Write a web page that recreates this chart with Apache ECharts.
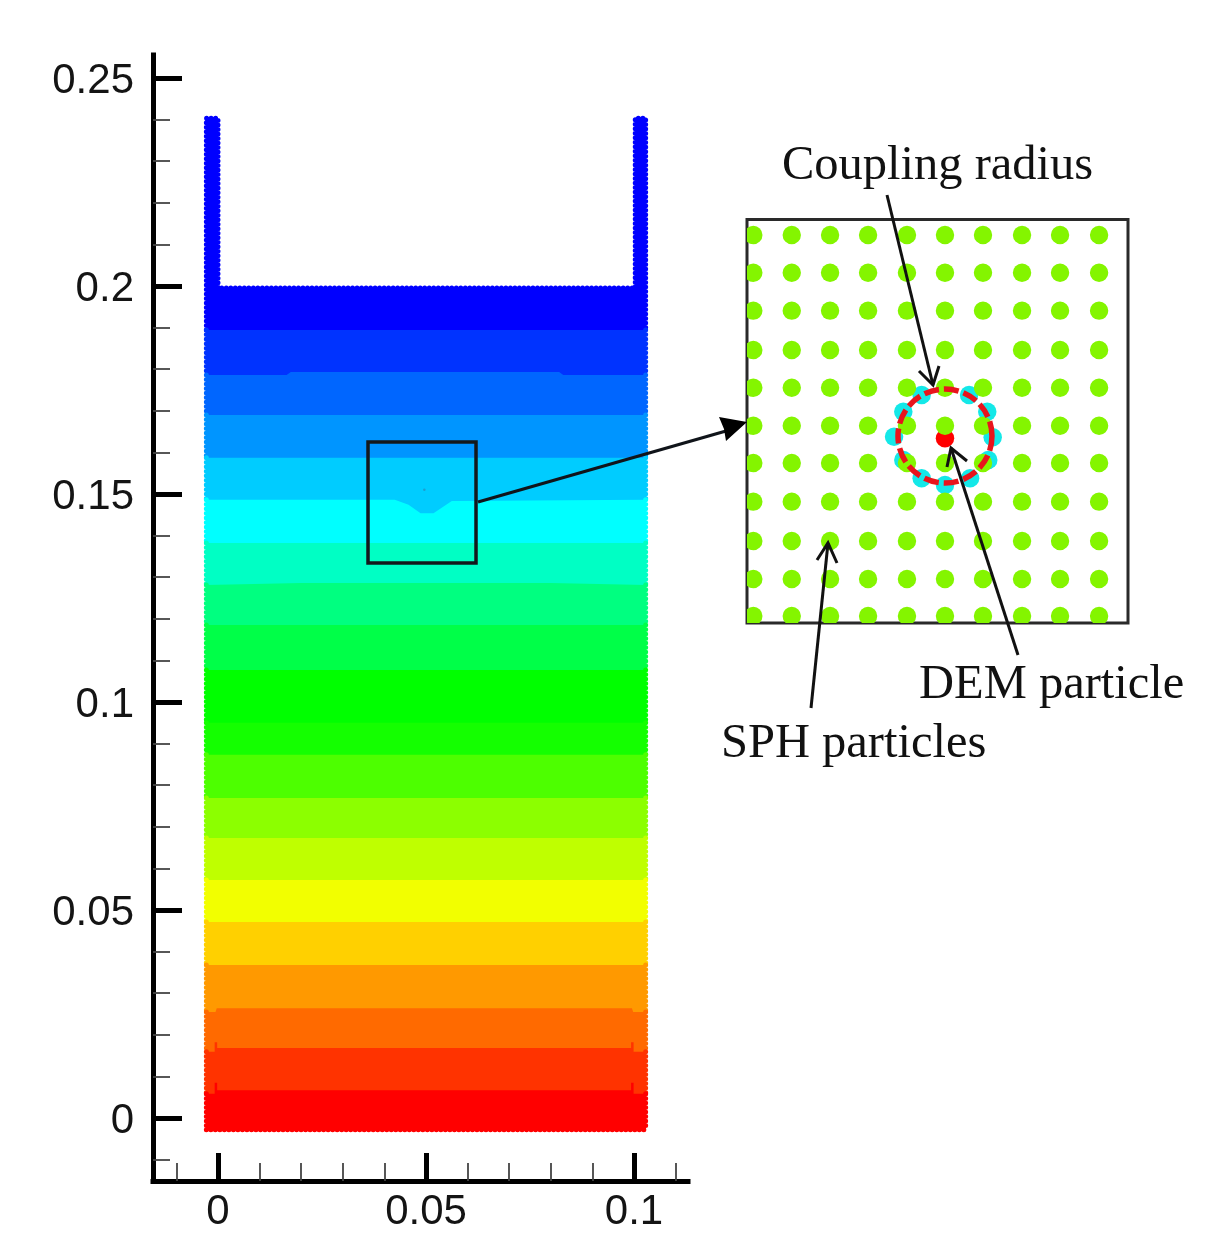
<!DOCTYPE html>
<html>
<head>
<meta charset="utf-8">
<style>html,body{margin:0;padding:0;background:#fff}#c{width:1207px;height:1257px;filter:blur(0.5px)}</style>
<script src="https://cdn.jsdelivr.net/npm/echarts@6/dist/echarts.min.js"></script>
</head>
<body>
<div id="c"></div>
<script>
// ---- main axes
const xMajor = [0, 0.05, 0.1];
const xMinor = [-0.01, 0.01, 0.02, 0.03, 0.04, 0.06, 0.07, 0.08, 0.09, 0.11];
const yMajor = [0, 0.05, 0.1, 0.15, 0.2, 0.25];
const yMinor = [-0.01, 0.01, 0.02, 0.03, 0.04, 0.06, 0.07, 0.08, 0.09, 0.11, 0.12, 0.13, 0.14,
                0.16, 0.17, 0.18, 0.19, 0.21, 0.22, 0.23, 0.24];

// ---- tank: outer particle centres
const tankOutlineX = [-0.0028, -0.0028, 0, 0, 0.1003, 0.1003, 0.1028, 0.1028];
const tankOutlineY = [0.1894, 0.2403, 0.2403, 0.1995, 0.1995, 0.2403, 0.2403, 0.1894];
const tankBottomY = -0.0028;

// ---- colour bands, top to bottom
const bandColors = ['#0000ff', '#0033ff', '#0066ff', '#0095ff', '#00ccff', '#00ffff', '#00ffc4',
  '#00ff80', '#00ff48', '#00ff00', '#14ff00', '#4dff00', '#8cff00', '#bfff00', '#f2ff00',
  '#ffd000', '#ff9900', '#ff6a00', '#ff3300', '#ff0000'];
const L = -0.0028, R = 0.1028;
// band separation lines as [x, y]
const bandEdges = [
  [[L, 0.1894], [R, 0.1894]],
  [[L, 0.1786], [0.0165, 0.1786], [0.0175, 0.1793], [0.082, 0.1793], [0.083, 0.1786], [R, 0.1786]],
  [[L, 0.1690], [R, 0.1690]],
  [[L, 0.1587], [R, 0.1587]],
  [[L, 0.1486], [0.0425, 0.1486], [0.0458, 0.1474], [0.0487, 0.1454], [0.0518, 0.1454], [0.0562, 0.1483], [R, 0.1486]],
  [[L, 0.1382], [R, 0.1382]],
  [[L, 0.1281], [0.02, 0.1286], [0.08, 0.1286], [R, 0.1281]],
  [[L, 0.1185], [R, 0.1185]],
  [[L, 0.1077], [R, 0.1077]],
  [[L, 0.0950], [R, 0.0950]],
  [[L, 0.0873], [R, 0.0873]],
  [[L, 0.0769], [R, 0.0769]],
  [[L, 0.0673], [R, 0.0673]],
  [[L, 0.0572], [R, 0.0572]],
  [[L, 0.0471], [R, 0.0471]],
  [[L, 0.0368], [R, 0.0368]],
  [[L, 0.0255], [-0.0006, 0.0255], [-0.0003, 0.0264], [0.0995, 0.0264], [0.0998, 0.0255], [R, 0.0255]],
  [[L, 0.0159], [-0.0008, 0.0159], [-0.0008, 0.0182], [-0.0002, 0.0182], [-0.0002, 0.0168], [0.0993, 0.0168], [0.0993, 0.0182], [0.0999, 0.0182], [0.0999, 0.0159], [R, 0.0159]],
  [[L, 0.0058], [-0.0008, 0.0058], [-0.0008, 0.0085], [-0.0002, 0.0085], [-0.0002, 0.0067], [0.0993, 0.0067], [0.0993, 0.0085], [0.0999, 0.0085], [0.0999, 0.0058], [R, 0.0058]]
];
const trackerX = [0.0496], trackerY = [0.151];
const zoomBoxX = [0.03606, 0.06202], zoomBoxY = [0.13341, 0.1625];

// ---- inset
const sphColX = [0.03649, 0.03911, 0.04172, 0.04431, 0.04696, 0.04955, 0.05214, 0.0548, 0.05739, 0.06005];
const sphRowY = [0.16138, 0.15866, 0.15593, 0.15309, 0.15037, 0.14763, 0.14494, 0.14216, 0.13932, 0.13658, 0.13391];
const coupledX = [0.04796, 0.05119, 0.05243, 0.0528, 0.0525, 0.05126, 0.04955, 0.04796, 0.04671, 0.04608, 0.04671];
const coupledY = [0.14985, 0.14985, 0.14864, 0.1468, 0.14516, 0.14384, 0.14336, 0.14384, 0.14516, 0.14684, 0.14864];
const demX = [0.04955], demY = [0.14673];
const radiusX = [0.04955], radiusY = [0.14689];

const zip = (a, b) => a.map((v, i) => [v, b[i]]);
const sphPoints = [];
sphRowY.forEach(y => sphColX.forEach(x => sphPoints.push([x, y])));

const dot = { lineWidth: 5, lineCap: 'round', lineDash: [0.01, 4.5], fill: null };

function renderBand(params, api) {
  const i = api.value(0);
  const color = bandColors[i];
  const px = p => api.coord(p);
  const children = [];
  let fillPts, sidePaths;
  if (i === 0) {
    const outline = zip(tankOutlineX, tankOutlineY);
    fillPts = outline.map(px);
    sidePaths = [fillPts];
  } else {
    const top = bandEdges[i - 1];
    const bottomY = i < bandEdges.length ? bandEdges[i][0][1] : tankBottomY;
    const bottomYR = i < bandEdges.length ? bandEdges[i][bandEdges[i].length - 1][1] : tankBottomY;
    fillPts = top.map(px).concat([px([R, tankBottomY]), px([L, tankBottomY])]);
    sidePaths = [
      [px(top[0]), px([L, bottomY])],
      [px(top[top.length - 1]), px([R, bottomYR])]
    ];
    if (i === bandColors.length - 1) sidePaths.push([px([L, tankBottomY]), px([R, tankBottomY])]);
  }
  children.push({ type: 'polygon', shape: { points: fillPts }, style: { fill: color, stroke: null } });
  sidePaths.forEach(p => children.push({
    type: 'polyline', shape: { points: p },
    style: Object.assign({}, dot, { stroke: color })
  }));
  return { type: 'group', children };
}

const tickLabel = { fontFamily: 'Liberation Sans', fontSize: 42, color: '#141414' };
const mainAxisLine = { show: true, onZero: false, lineStyle: { color: '#000', width: 5, cap: 'square' } };
const thinArrow = { stroke: '#111', lineWidth: 3, fill: null };
const noteFont = '48.5px "Liberation Serif"';

const option = {
  animation: false,
  backgroundColor: '#fff',
  grid: [
    { left: 153, top: 55, width: 535, height: 1126, show: false },
    { left: 747, top: 219.5, width: 381, height: 403.5, show: true, borderColor: '#2a2a2a', borderWidth: 3, backgroundColor: '#fff' }
  ],
  xAxis: [
    { type: 'value', gridIndex: 0, position: 'bottom', min: -0.015625, max: 0.11298,
      axisLine: mainAxisLine, splitLine: { show: false },
      axisTick: { show: true, inside: true, length: 28, customValues: xMajor, lineStyle: { color: '#000', width: 5 } },
      axisLabel: Object.assign({ customValues: xMajor, margin: 10 }, tickLabel) },
    { type: 'value', gridIndex: 0, position: 'bottom', min: -0.015625, max: 0.11298,
      axisLine: { show: false, onZero: false }, splitLine: { show: false },
      axisTick: { show: true, inside: true, length: 18, customValues: xMinor, lineStyle: { color: '#444', width: 1.8 } },
      axisLabel: { show: false } },
    { type: 'value', gridIndex: 1, min: zoomBoxX[0], max: zoomBoxX[1], show: false }
  ],
  yAxis: [
    { type: 'value', gridIndex: 0, position: 'left', min: -0.015144, max: 0.25553,
      axisLine: mainAxisLine, splitLine: { show: false },
      axisTick: { show: true, inside: true, length: 29, customValues: yMajor, lineStyle: { color: '#000', width: 5 } },
      axisLabel: { customValues: yMajor, margin: 19, formatter: v => '{t|' + v + '}',
        rich: { t: Object.assign({ padding: [6, 0, 0, 0] }, tickLabel) } } },
    { type: 'value', gridIndex: 0, position: 'left', min: -0.015144, max: 0.25553,
      axisLine: { show: false, onZero: false }, splitLine: { show: false },
      axisTick: { show: true, inside: true, length: 17, customValues: yMinor, lineStyle: { color: '#444', width: 1.8 } },
      axisLabel: { show: false } },
    { type: 'value', gridIndex: 1, min: zoomBoxY[0], max: zoomBoxY[1], show: false }
  ],
  series: [
    { type: 'custom', xAxisIndex: 0, yAxisIndex: 0, z: 2, clip: false, silent: true,
      data: bandColors.map((c, i) => [i]), dimensions: ['band'],
      encode: { x: -1, y: -1 }, renderItem: renderBand },
    { type: 'scatter', xAxisIndex: 0, yAxisIndex: 0, z: 3, silent: true, symbolSize: 2.5,
      itemStyle: { color: '#1a9fd0', opacity: 1 }, data: zip(trackerX, trackerY) },
    { type: 'custom', xAxisIndex: 0, yAxisIndex: 0, z: 4, clip: false, silent: true,
      data: [[zoomBoxX[0], zoomBoxY[0], zoomBoxX[1], zoomBoxY[1]]],
      renderItem: (p, api) => {
        const a = api.coord([api.value(0), api.value(1)]);
        const b = api.coord([api.value(2), api.value(3)]);
        return { type: 'rect',
          shape: { x: a[0], y: b[1], width: b[0] - a[0], height: a[1] - b[1] },
          style: { fill: null, stroke: '#14181c', lineWidth: 3.5 } };
      } },
    { type: 'scatter', xAxisIndex: 2, yAxisIndex: 2, z: 5, silent: true, symbolSize: 18.5,
      itemStyle: { color: '#14e8e8', opacity: 1 }, data: zip(coupledX, coupledY) },
    { type: 'scatter', xAxisIndex: 2, yAxisIndex: 2, z: 6, silent: true, symbolSize: 18.5,
      itemStyle: { color: '#ff0000', opacity: 1 }, data: zip(demX, demY) },
    { type: 'custom', xAxisIndex: 2, yAxisIndex: 2, z: 7, clip: true, silent: true,
      data: sphPoints,
      renderItem: (p, api) => {
        const c = api.coord([api.value(0), api.value(1)]);
        return { type: 'circle', shape: { cx: c[0], cy: c[1], r: 9.2 }, style: { fill: '#84f500', stroke: null } };
      } },
    { type: 'scatter', xAxisIndex: 2, yAxisIndex: 2, z: 8, silent: true, symbol: 'circle', symbolSize: 94,
      itemStyle: { color: 'rgba(0,0,0,0)', opacity: 1, borderColor: '#e8141c', borderWidth: 5.5, borderType: [15, 5] },
      data: zip(radiusX, radiusY) }
  ],
  graphic: { elements: [
    // callout from the small box to the inset
    { type: 'polyline', z: 50, shape: { points: [[478, 502], [726, 431]] }, style: { stroke: '#10141a', lineWidth: 3.2, fill: null } },
    { type: 'polygon', z: 50, shape: { points: [[747, 422], [719, 417], [724, 429], [726, 441]] }, style: { fill: '#000' } },
    // Coupling radius
    { type: 'polyline', z: 50, shape: { points: [[887, 195], [933, 385]] }, style: thinArrow },
    { type: 'polyline', z: 50, shape: { points: [[919, 371], [933, 385], [939, 366]] }, style: thinArrow },
    // DEM particle
    { type: 'polyline', z: 50, shape: { points: [[1018, 655], [951, 448]] }, style: thinArrow },
    { type: 'polyline', z: 50, shape: { points: [[947, 467], [951, 448], [967, 461]] }, style: thinArrow },
    // SPH particles
    { type: 'polyline', z: 50, shape: { points: [[811, 708], [828, 543]] }, style: thinArrow },
    { type: 'polyline', z: 50, shape: { points: [[817, 560], [828, 543], [837, 563]] }, style: thinArrow },
    { type: 'text', z: 50, x: 782, y: 166, style: { text: 'Coupling radius', font: noteFont, fill: '#111', textVerticalAlign: 'middle', textBaseline: 'middle' } },
    { type: 'text', z: 50, x: 919, y: 685, style: { text: 'DEM particle', font: noteFont, fill: '#111', textVerticalAlign: 'middle', textBaseline: 'middle' } },
    { type: 'text', z: 50, x: 721, y: 744, style: { text: 'SPH particles', font: noteFont, fill: '#111', textVerticalAlign: 'middle', textBaseline: 'middle' } }
  ] }
};
echarts.init(document.getElementById('c')).setOption(option);
</script>
</body>
</html>
